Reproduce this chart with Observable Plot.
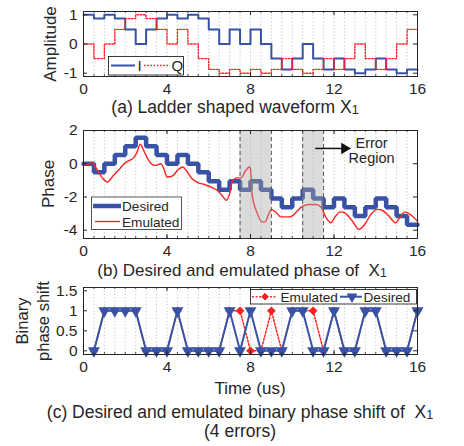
<!DOCTYPE html>
<html>
<head>
<meta charset="utf-8">
<script src="https://cdn.jsdelivr.net/npm/d3@7"></script>
<script src="https://cdn.jsdelivr.net/npm/@observablehq/plot@0.6"></script>
<style>
  body { margin: 0; background: #fff; }
  #fig { position: relative; width: 464px; height: 446px; overflow: hidden;
         font-family: "Liberation Sans", Arial, Helvetica, sans-serif; color: #262626; }
  #fig > svg { position: absolute; left: 0; }
  .lbl { position: absolute; white-space: nowrap; line-height: 1; }
  .sub { font-size: 0.72em; position: relative; top: 0.1em; }
</style>
</head>
<body>
<div id="fig"></div>
<script>
// ---------------- data ----------------
const tEdges = [0,0.5,1,1.5,2,2.5,3,3.5,4,4.5,5,5.5,6,6.5,7,7.5,8,8.5,9,9.5,10,10.5,11,11.5,12,12.5,13,13.5,14,14.5,15,15.5,16];
// panel (a): I and Q levels for each 0.5 us interval
const ampI = [1,0.87,1,0.87,0.5,0,0.5,0.87,1,0.87,1,0.87,0.5,0,0.5,0,0.5,0,-0.5,-0.87,-0.5,0,-0.5,-0.87,-0.5,-0.87,-1,-0.87,-0.5,-0.87,-1,-0.87];
const ampQ = [0,-0.5,0,0.5,0.87,1,0.87,0.5,0,0.5,0,-0.5,-0.87,-1,-0.87,-1,-0.87,-1,-0.87,-0.5,-0.87,-1,-0.87,-0.5,-0.87,-0.5,0,-0.5,-0.87,-0.5,0,0.5];
// panel (b): desired phase per interval, emulated phase samples
const phaseDesired = [0,-0.52,0,0.52,1.05,1.57,1.05,0.52,0,0.52,0,-0.52,-1.05,-1.57,-1.05,-1.57,-1.05,-1.57,-2.09,-2.62,-2.09,-1.57,-2.09,-2.62,-2.09,-2.62,-3.14,-2.62,-2.09,-2.62,-3.14,-3.67];
const emuT = [0,0.2,0.4,0.6,0.9,1.15,1.4,1.7,2.0,2.2,2.4,2.55,2.72,2.9,3.1,3.3,3.45,3.7,3.85,4.0,4.25,4.5,4.75,4.95,5.2,5.5,5.8,6.1,6.4,6.6,6.85,7.0,7.15,7.35,7.55,7.75,7.95,8.0,8.08,8.3,8.55,8.7,8.85,9.0,9.2,9.45,9.9,10.2,10.45,10.8,11.15,11.4,11.6,11.85,12.05,12.3,12.5,12.85,13.2,13.5,13.8,14.1,14.3,14.6,14.95,15.2,15.4,15.7,16];
const emuPhase = [0,-0.08,0.08,-0.25,-0.85,-1.1,-0.75,-0.35,0.05,0.2,0.35,0.65,1.18,0.75,0.25,-0.05,-0.1,0.0,-0.3,-0.8,-0.75,-0.4,-0.2,-0.45,-0.9,-1.15,-1.25,-1.4,-1.6,-1.85,-2.2,-1.8,-1.0,-0.85,-0.85,-0.45,-0.2,-0.3,-1.9,-2.9,-3.5,-3.5,-3.1,-2.75,-2.9,-3.2,-3.2,-2.9,-2.6,-2.45,-2.45,-2.65,-3.2,-3.55,-3.2,-2.9,-2.95,-3.4,-3.95,-3.6,-3.0,-2.75,-2.8,-3.1,-3.55,-3.15,-2.9,-3.1,-3.45];
const errStart = [7.5, 10.5];
const errEnd = [9, 11.5];
const arrowX1 = [11.1], arrowX2 = [12.6], arrowY = [0.92];
const noteX = [13.8], noteY = [0.77], noteText = ["Error\nRegion"];
// panel (c): binary phase shift
const tBits = [0.5,1,1.5,2,2.5,3,3.5,4,4.5,5,5.5,6,6.5,7,7.5,8,8.5,9,9.5,10,10.5,11,11.5,12,12.5,13,13.5,14,14.5,15,15.5,16];
const bitsDesired  = [0,1,1,1,1,0,0,0,1,0,0,0,0,1,0,1,0,0,0,1,1,0,0,1,0,0,1,1,0,0,0,1];
const bitsEmulated = [0,1,1,1,1,0,0,0,1,0,0,0,0,1,1,0,0,1,0,1,1,1,0,1,0,0,1,1,0,0,0,1];
// ticks
const xTicks = [0,4,8,12,16];
const xMinor = [0.5,1,1.5,2,2.5,3,3.5,4,4.5,5,5.5,6,6.5,7,7.5,8,8.5,9,9.5,10,10.5,11,11.5,12,12.5,13,13.5,14,14.5,15,15.5];
const yTicksA = [-1,0,1];
const yTicksB = [-4,-2,0,2];
const yTicksC = [0,0.5,1,1.5];

// ---------------- style ----------------
const FONT = '"Liberation Sans", Arial, Helvetica, sans-serif';
const INK = "#262626";
const BLUE = "#3853a6";
const RED = "#ff2020";
const ML = 83, MR = 47, W = 464;

const stairs = (vals) => tEdges.map((t, i) => ({t, v: vals[Math.min(i, vals.length - 1)]}));
const fig = document.getElementById("fig");

function panel({top, height, mt, mb, ydom, yticks, marks}) {
  const fw = W - ML - MR, fh = height - mt - mb;
  const svg = Plot.plot({
    width: W, height, marginLeft: ML, marginRight: MR, marginTop: mt, marginBottom: mb,
    style: {fontFamily: FONT, fontSize: "15.5px", color: INK, background: "transparent", overflow: "visible"},
    x: {domain: [0, 16]},
    y: {domain: ydom},
    marks: [
      Plot.ruleX(xMinor, {stroke: "#b8b8b8", strokeWidth: 0.8, strokeDasharray: "1.2,2.2"}),
      ...marks,
      Plot.ruleX(xTicks, {insetTop: fh - 4, stroke: INK}),
      Plot.ruleX(xTicks, {insetBottom: fh - 4, stroke: INK}),
      Plot.ruleX(xMinor, {insetTop: fh - 2, stroke: INK, strokeWidth: 0.8}),
      Plot.ruleX(xMinor, {insetBottom: fh - 2, stroke: INK, strokeWidth: 0.8}),
      Plot.ruleY(yticks, {insetRight: fw - 4, stroke: INK}),
      Plot.ruleY(yticks, {insetLeft: fw - 4, stroke: INK}),
      Plot.frame({stroke: INK, strokeWidth: 1}),
      Plot.axisX({ticks: xTicks, tickSize: 0, tickPadding: 6, label: null, tickFormat: d => String(d)}),
      Plot.axisY({ticks: yticks, tickSize: 0, tickPadding: 6, label: null, tickFormat: d => String(d)})
    ]
  });
  svg.style.top = top + "px";
  fig.appendChild(svg);
}

// (a)
panel({
  top: 0, height: 100, mt: 11, mb: 24, ydom: [-1.113, 1.113], yticks: yTicksA,
  marks: [
    Plot.line(stairs(ampI), {x: "t", y: "v", curve: "step-after", stroke: BLUE, strokeWidth: 2}),
    Plot.line(stairs(ampQ), {x: "t", y: "v", curve: "step-after", stroke: RED, strokeWidth: 1.4, strokeDasharray: "1.6,1.6"})
  ]
});

// (b)
const emu = emuT.map((t, i) => ({t, v: emuPhase[i]}));
const errs = errStart.map((a, i) => ({a, b: errEnd[i]}));
const arrows = arrowX1.map((x1, i) => ({x1, x2: arrowX2[i], y: arrowY[i]}));
panel({
  top: 120, height: 142, mt: 10, mb: 24, ydom: [-4.5, 2], yticks: yTicksB,
  marks: [
    Plot.line(stairs(phaseDesired), {x: "t", y: "v", curve: "step-after", stroke: BLUE, strokeWidth: 4.5, strokeLinejoin: "miter"}),
    Plot.line(emu, {x: "t", y: "v", curve: "monotone-x", stroke: RED, strokeWidth: 1.4}),
    Plot.rect(errs, {x1: "a", x2: "b", fill: "#a4a4a8", fillOpacity: 0.4}),
    Plot.ruleX(errStart.concat(errEnd), {stroke: "#5a5a5a", strokeWidth: 1, strokeDasharray: "4,3"}),
    Plot.link(arrows, {x1: "x1", x2: "x2", y1: "y", y2: "y", stroke: "#111", strokeWidth: 1.5, insetEnd: 3}),
    Plot.dot(arrows, {x: "x2", y: "y", symbol: "triangle", rotate: 90, r: 3.3, fill: "#111", stroke: "#111", dx: -2}),
    Plot.text(noteText.map((s, i) => ({s, x: noteX[i], y: noteY[i]})),
      {x: "x", y: "y", text: "s", fontSize: 14.5, lineHeight: 1.05, fill: INK, textAnchor: "middle"})
  ]
});

// (c)
const bitsE = tBits.map((t, i) => ({t, v: bitsEmulated[i]}));
const bitsD = tBits.map((t, i) => ({t, v: bitsDesired[i]}));
panel({
  top: 277, height: 100, mt: 10, mb: 23, ydom: [-0.092, 1.582], yticks: yTicksC,
  marks: [
    Plot.line(bitsE, {x: "t", y: "v", stroke: RED, strokeWidth: 1.5, strokeDasharray: "1.8,1.8"}),
    Plot.dot(bitsE, {x: "t", y: "v", symbol: "diamond2", fill: RED, stroke: RED, r: 3}),
    Plot.line(bitsD, {x: "t", y: "v", stroke: BLUE, strokeWidth: 2}),
    Plot.dot(bitsD, {x: "t", y: "v", symbol: "triangle", rotate: 180, fill: BLUE, stroke: BLUE, r: 3.5})
  ]
});

// ---------------- text labels ----------------
function label(html, x, y, size, rot = 0) {
  const d = document.createElement("div");
  d.className = "lbl";
  d.innerHTML = html;
  d.style.left = x + "px";
  d.style.top = y + "px";
  d.style.fontSize = size + "px";
  d.style.transform = `translate(-50%,-50%) rotate(${rot}deg)`;
  fig.appendChild(d);
}
label("Amplitude", 50, 44, 17, -90);
label("Phase", 48, 184, 17, -90);
label("Binary", 22, 321, 16.5, -90);
label("phase shift", 43, 321, 16.5, -90);
label("Time (us)", 250, 388, 17);
label('(a) Ladder shaped waveform X<span class="sub">1</span>', 235, 108, 17.5);
label('(b) Desired and emulated phase of&nbsp; X<span class="sub">1</span>', 242, 269.5, 17);
label('(c) Desired and emulated binary phase shift of&nbsp; X<span class="sub">1</span>', 240, 413, 17.5);
label("(4 errors)", 240, 432, 17.5);

// ---------------- legends ----------------
const ov = d3.select(fig).append("svg")
  .attr("width", W).attr("height", 446)
  .style("top", "0px").style("pointer-events", "none")
  .style("font-family", FONT).style("fill", INK);

// legend (a)
ov.append("rect").attr("x", 108.5).attr("y", 56.5).attr("width", 75).attr("height", 18.5)
  .attr("fill", "#fff").attr("stroke", INK).attr("stroke-width", 0.9);
ov.append("line").attr("x1", 111).attr("x2", 135).attr("y1", 65.5).attr("y2", 65.5)
  .attr("stroke", BLUE).attr("stroke-width", 2);
ov.append("text").attr("x", 137.5).attr("y", 71).attr("font-size", 15).text("I");
ov.append("line").attr("x1", 144).attr("x2", 170).attr("y1", 65.5).attr("y2", 65.5)
  .attr("stroke", RED).attr("stroke-width", 1.4).attr("stroke-dasharray", "1.6,1.6");
ov.append("text").attr("x", 171.5).attr("y", 71).attr("font-size", 15).text("Q");

// legend (b)
ov.append("rect").attr("x", 91.5).attr("y", 197).attr("width", 90).attr("height", 32.5)
  .attr("fill", "#fff").attr("stroke", "#444").attr("stroke-width", 0.9);
ov.append("line").attr("x1", 93).attr("x2", 121).attr("y1", 206).attr("y2", 206)
  .attr("stroke", BLUE).attr("stroke-width", 4.5);
ov.append("text").attr("x", 122).attr("y", 211).attr("font-size", 13.6).text("Desired");
ov.append("line").attr("x1", 95).attr("x2", 120).attr("y1", 221.5).attr("y2", 221.5)
  .attr("stroke", RED).attr("stroke-width", 1.4);
ov.append("text").attr("x", 122).attr("y", 226.5).attr("font-size", 13.6).text("Emulated");

// legend (c)
ov.append("rect").attr("x", 250.5).attr("y", 289.5).attr("width", 166).attr("height", 14.5)
  .attr("fill", "#fff").attr("stroke", INK).attr("stroke-width", 0.9);
ov.append("line").attr("x1", 252).attr("x2", 277).attr("y1", 296.7).attr("y2", 296.7)
  .attr("stroke", RED).attr("stroke-width", 1.5).attr("stroke-dasharray", "1.8,1.8");
ov.append("path").attr("d", d3.symbol(d3.symbolDiamond2, Math.PI * 9)())
  .attr("transform", "translate(265,296.7)").attr("fill", RED).attr("stroke", RED);
ov.append("text").attr("x", 280.5).attr("y", 301.5).attr("font-size", 13.6).text("Emulated");
ov.append("line").attr("x1", 340).attr("x2", 362).attr("y1", 296.7).attr("y2", 296.7)
  .attr("stroke", BLUE).attr("stroke-width", 2);
ov.append("path").attr("d", d3.symbol(d3.symbolTriangle, Math.PI * 12.25)())
  .attr("transform", "translate(352,296.7) rotate(180)").attr("fill", BLUE).attr("stroke", BLUE);
ov.append("text").attr("x", 363.5).attr("y", 301.5).attr("font-size", 13.6).text("Desired");
</script>
</body>
</html>
